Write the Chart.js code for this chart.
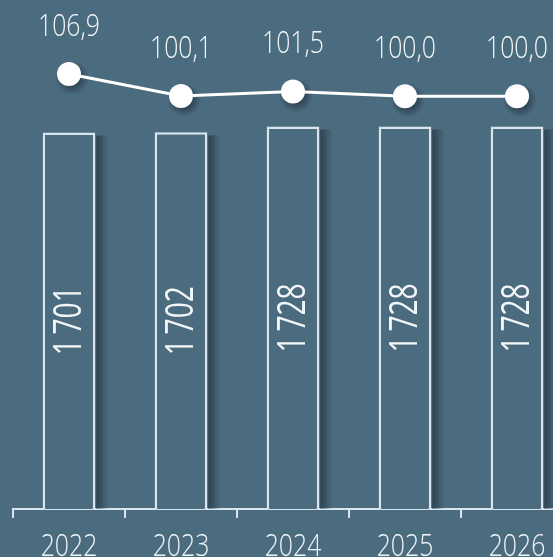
<!DOCTYPE html>
<html lang="ru">
<head>
  <title>Chart</title>
  <script type="text/javascript" src="https://cdn.jsdelivr.net/npm/chart.js"></script>
  <style>
    html, body { margin: 0; padding: 0; background: #4b6b7e; overflow: hidden; }
    #wrap { width: 553px; height: 557px; overflow: hidden; position: relative; }
    canvas { display: block; }
  </style>
</head>
<body>
<div id="wrap"><canvas id="c" width="600" height="557"></canvas></div>

<script>
  // data
  const years = ['2022', '2023', '2024', '2025', '2026'];
  const volumes = [1701, 1702, 1728, 1728, 1728];
  const indexes = [106.9, 100.1, 101.5, 100.0, 100.0];

  const bg = '#4b6b7e';
  const lineCol = '#d8e4ee';

  function fmtIndex(v) { return v.toFixed(1).replace('.', ','); }
  function fmtVolume(v) {
    const s = String(v);
    return s.length > 3 ? s.slice(0, s.length - 3) + '\u2009' + s.slice(-3) : s;
  }

  // narrow text helper (the original font is rather condensed)
  function drawText(ctx, text, x, y, font, sx, rot) {
    ctx.save();
    ctx.translate(x, y);
    if (rot) ctx.rotate(rot);
    ctx.scale(sx, 1);
    ctx.font = font;
    ctx.fillText(text, 0, 0);
    ctx.restore();
  }

  // soft shadows drawn by hand, taken from the element positions
  const shadowPlugin = {
    id: 'shadows',
    beforeDatasetDraw(chart, args) {
      const ctx = chart.ctx;
      if (args.meta.type === 'bar') {
        args.meta.data.forEach(bar => {
          const right = bar.x + bar.width / 2 + 1;
          const g = ctx.createLinearGradient(right, 0, right + 12, 0);
          g.addColorStop(0, 'rgba(22,34,44,0.55)');
          g.addColorStop(1, 'rgba(22,34,44,0)');
          ctx.fillStyle = g;
          ctx.fillRect(right, bar.y + 3, 12, bar.base - bar.y - 3);
        });
      } else {
        args.meta.data.forEach(pt => {
          const cx = pt.x + 3, cy = pt.y + 4;
          const g = ctx.createRadialGradient(cx, cy, 8, cx, cy, 17);
          g.addColorStop(0, 'rgba(22,34,44,0.5)');
          g.addColorStop(1, 'rgba(22,34,44,0)');
          ctx.fillStyle = g;
          ctx.beginPath();
          ctx.arc(cx, cy, 17, 0, Math.PI * 2);
          ctx.fill();
        });
      }
    }
  };

  const labelPlugin = {
    id: 'labels',
    afterDatasetsDraw(chart) {
      const ctx = chart.ctx;
      ctx.save();
      ctx.fillStyle = '#f2f6f8';
      ctx.textAlign = 'center';
      ctx.textBaseline = 'middle';

      // bar values, rotated inside the bars (dataset 1)
      chart.getDatasetMeta(1).data.forEach((bar, i) => {
        const y = (bar.y + bar.base) / 2;
        drawText(ctx, fmtVolume(volumes[i]), bar.x + 1, y, '400 38px "Open Sans"', 0.74, -Math.PI / 2);
      });

      // index values above the points (dataset 0)
      chart.getDatasetMeta(0).data.forEach((pt, i) => {
        drawText(ctx, fmtIndex(indexes[i]), pt.x, pt.y - 47, '300 31px "Open Sans"', 0.8, 0);
      });

      // category labels under the axis
      const xs = chart.scales.x;
      ctx.textBaseline = 'alphabetic';
      years.forEach((yr, i) => {
        drawText(ctx, yr, xs.getPixelForTick(i), xs.bottom - 1, '300 31px "Open Sans"', 0.8, 0);
      });
      ctx.restore();
    }
  };

  const ctx = document.getElementById('c').getContext('2d');

  new Chart(ctx, {
    data: {
      labels: years,
      datasets: [
        {
          type: 'line',
          label: 'index',
          data: indexes,
          yAxisID: 'y2',
          borderColor: '#ffffff',
          borderWidth: 3,
          pointRadius: 12,
          pointHoverRadius: 12,
          pointBackgroundColor: '#ffffff',
          pointBorderWidth: 0,
          tension: 0,
          clip: false,
          order: 0
        },
        {
          type: 'bar',
          label: 'volume',
          data: volumes,
          yAxisID: 'y',
          backgroundColor: bg,
          borderColor: lineCol,
          borderWidth: 2.5,
          borderSkipped: 'bottom',
          categoryPercentage: 1,
          barPercentage: 0.47,
          order: 1
        }
      ]
    },
    options: {
      responsive: false,
      animation: false,
      devicePixelRatio: 1,
      layout: { autoPadding: false, padding: { left: 13, right: 27, top: 0, bottom: 0 } },
      plugins: {
        legend: { display: false },
        tooltip: { enabled: false }
      },
      scales: {
        x: {
          offset: true,
          grid: {
            display: true,
            offset: true,
            drawOnChartArea: false,
            drawTicks: true,
            tickLength: 9,
            tickWidth: 2,
            color: lineCol,
            lineWidth: 2
          },
          border: { display: true, color: lineCol, width: 2 },
          ticks: { color: 'rgba(0,0,0,0)', font: { size: 20 } },
          afterFit(scale) { scale.height = 48; }
        },
        y: { display: false, min: 0, max: 2300 },
        y2: { display: false, min: -27.3, max: 129.7 }
      }
    },
    plugins: [shadowPlugin, labelPlugin]
  });
</script>
</body>
</html>
